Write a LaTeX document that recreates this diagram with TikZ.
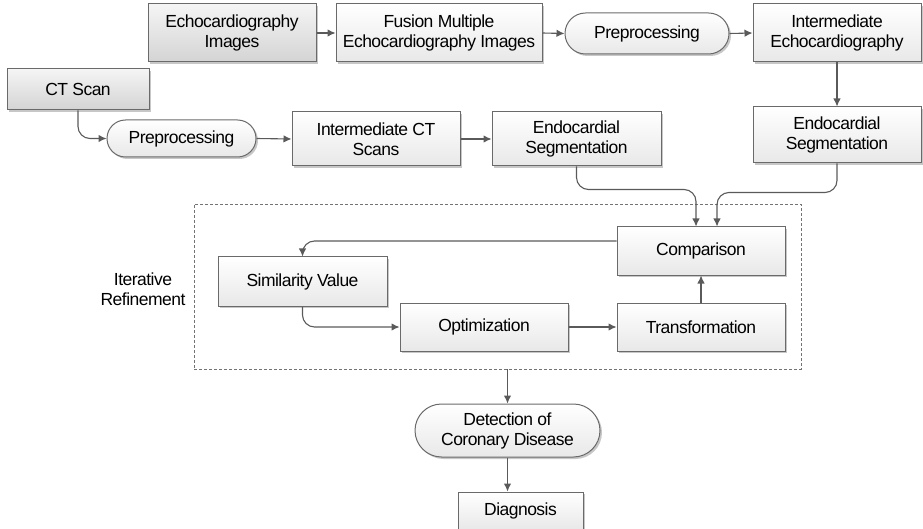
\documentclass[tikz,border=0pt]{standalone}
\usepackage{fontspec}
\setmainfont[LetterSpace=-3]{Liberation Sans}
\usetikzlibrary{arrows.meta,shadows,shapes.misc}
\definecolor{lc}{HTML}{5A5A5A}
\definecolor{bc}{HTML}{6A6A6A}
\begin{document}
\begin{tikzpicture}[x=1pt,y=-1pt,
  every node/.style={font=\fontsize{17.5}{20}\selectfont, align=center, inner sep=0pt},
  base/.style={rectangle, draw=bc, line width=1pt,
    drop shadow={shadow xshift=2pt, shadow yshift=-2pt, fill=black!22, opacity=1}},
  lbox/.style={base, top color=white, bottom color=black!9},
  dbox/.style={base, top color=black!4, bottom color=black!17},
  term/.style={rounded rectangle, draw=bc, line width=1pt, top color=white, bottom color=black!9,
    drop shadow={shadow xshift=2pt, shadow yshift=-2pt, fill=black!22, opacity=1}},
  conn/.style={draw=lc, line width=1.1pt, -{Latex[length=8pt,width=7.5pt]}, rounded corners=12pt},
  dashbox/.style={draw=black!55, dash pattern=on 3pt off 2pt, line width=0.8pt}]
\useasboundingbox (0,0) rectangle (923,529);
\begin{scope}
\clip (0,0) rectangle (923,529);
% dashed frame
\node[dashbox, minimum width=607pt, minimum height=165pt] (frame) at (497.5,286.5) {};
% top row
\node[dbox, minimum width=168pt, minimum height=58pt] (echo) at (232,33) {Echocardiography\\Images};
\node[lbox, minimum width=206pt, minimum height=58pt] (fusion) at (439,33) {Fusion Multiple\\Echocardiography Images};
\node[term, minimum width=164pt, minimum height=41pt] (pre1) at (647,33.5) {Preprocessing};
\node[lbox, minimum width=168pt, minimum height=58pt] (interE) at (837,33) {Intermediate\\Echocardiography};
\node[lbox, minimum width=168pt, minimum height=56pt] (endoR) at (837,135) {Endocardial\\Segmentation};
% CT row
\node[dbox, minimum width=142pt, minimum height=41pt] (ct) at (78,89.5) {CT Scan};
\node[term, minimum width=149pt, minimum height=37pt] (pre2) at (181.5,138.5) {Preprocessing};
\node[lbox, minimum width=168pt, minimum height=54pt] (interCT) at (376,139) {Intermediate CT\\Scans};
\node[lbox, minimum width=169pt, minimum height=54pt] (endoL) at (576.5,139) {Endocardial\\Segmentation};
% iterative refinement
\node[lbox, minimum width=168pt, minimum height=48pt] (cmp) at (701,251) {Comparison};
\node[lbox, minimum width=168pt, minimum height=48pt] (trans) at (701,327) {Transformation};
\node[lbox, minimum width=169pt, minimum height=49pt] (sim) at (302.5,281.5) {Similarity Value};
\node[lbox, minimum width=168pt, minimum height=48pt] (opt) at (484,327) {Optimization};
\node (itlab) at (143,289.5) {Iterative\\Refinement};
% bottom
\node[term, minimum width=185pt, minimum height=53pt] (detect) at (507.5,430.5) {Detection of\\Coronary Disease};
\node[lbox, minimum width=125pt, minimum height=38pt] (diag) at (520.5,511) {Diagnosis};
\end{scope}
% connectors
\draw[conn] (echo.east) -- (fusion.west);
\draw[conn] (fusion.east) -- (pre1.west);
\draw[conn] (pre1.east) -- (interE.west);
\draw[conn] (interE.south) -- (endoR.north);
\draw[conn] (ct.south) |- (pre2.west);
\draw[conn] (pre2.east) -- (interCT.west);
\draw[conn] (interCT.east) -- (endoL.west);
\coordinate (cL) at ([xshift=-5pt]cmp.north);
\coordinate (cR) at ([xshift=16pt]cmp.north);
\draw[conn] (endoL.south) -- ++(0,23) -| (cL);
\draw[conn] (endoR.south) -- ++(0,29) -| (cR);
\coordinate (cW) at ([yshift=10pt]cmp.west);
\draw[conn] (cW) -| (sim.north);
\draw[conn] (sim.south) |- (opt.west);
\draw[conn] (opt.east) -- (trans.west);
\draw[conn] (trans.north) -- (cmp.south);
\draw[conn] (detect.north |- frame.south) -- (detect.north);
\draw[conn] (detect.south) -- (detect.south |- diag.north);
\end{tikzpicture}
\end{document}
